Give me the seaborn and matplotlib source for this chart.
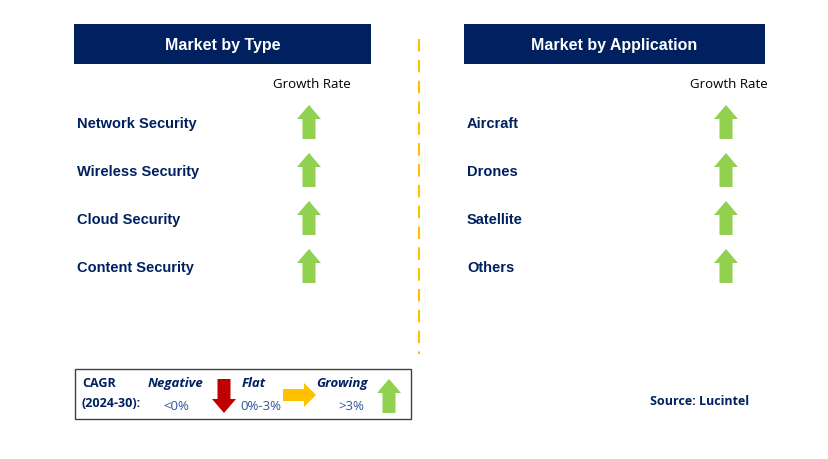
import matplotlib
matplotlib.use("Agg")
import matplotlib.pyplot as plt
import seaborn as sns

# chart content
type_labels = ["Network Security", "Wireless Security", "Cloud Security", "Content Security"]
type_growth = ["up", "up", "up", "up"]
app_labels = ["Aircraft", "Drones", "Satellite", "Others"]
app_growth = ["up", "up", "up", "up"]
panel_titles = ["Market by Type", "Market by Application"]
column_title = "Growth Rate"
legend_titles = ["Negative", "Flat", "Growing"]
legend_ranges = ["<0%", "0%-3%", ">3%"]
source_text = "Source: Lucintel"

navy = "#002060"
green = "#92D050"
red = "#C00000"
amber = "#FFC000"

sns.set_style("white")
plt.rcParams["font.family"] = ["Liberation Sans", "DejaVu Sans"]

fig = plt.figure(figsize=(8.29, 4.60), dpi=100)
ax = fig.add_axes([0, 0, 1, 1])
ax.set_xlim(0, 829)
ax.set_ylim(460, 0)
ax.axis("off")


def up_arrow(x, y_mid, color, h=34):
    ax.arrow(x, y_mid + h / 2, 0, -h, width=13, head_width=24, head_length=14,
             length_includes_head=True, color=color, lw=0)


def down_arrow(x, y_mid, color, h=34):
    ax.arrow(x, y_mid - h / 2, 0, h, width=13, head_width=24, head_length=14,
             length_includes_head=True, color=color, lw=0)


def right_arrow(x0, y_mid, color, w=33):
    ax.arrow(x0, y_mid, w, 0, width=12, head_width=24, head_length=12,
             length_includes_head=True, color=color, lw=0)


panels = [(74, 371, 77, 309, type_labels, type_growth),
          (464, 765, 467, 726, app_labels, app_growth)]

for (x0, x1, lx, ax_x, labels, growth), title in zip(panels, panel_titles):
    ax.add_patch(plt.Rectangle((x0, 25), x1 - x0, 40, color=navy, lw=0))
    ax.text((x0 + x1) / 2, 45.5, title, color="white", fontsize=11.5, fontweight="bold",
            ha="center", va="center")
    ax.text(ax_x + 3, 84.5, column_title, fontsize=9.5, ha="center", va="center",
            family=["Open Sans", "DejaVu Sans"], color="black")
    for i, (lab, g) in enumerate(zip(labels, growth)):
        y = 124 + 48 * i
        ax.text(lx, y, lab, color=navy, fontsize=10.5, fontweight="bold", ha="left", va="center")
        if g == "up":
            up_arrow(ax_x, y - 1, green)
        elif g == "down":
            down_arrow(ax_x, y - 1, red)
        else:
            right_arrow(ax_x - 16, y - 1, amber)

# divider
ax.plot([419, 419], [40, 355], color=amber, lw=1.5, ls=(0, (6, 4)))

# legend box
ax.add_patch(plt.Rectangle((75, 370), 336, 50, fill=False, ec="#404040", lw=1))
ax.text(82, 384, "CAGR", color=navy, fontsize=9, fontweight="bold", va="center",
        family=["Open Sans", "DejaVu Sans"])
ax.text(82, 404, "(2024-30):", color=navy, fontsize=9, fontweight="bold", va="center",
        family=["Open Sans", "DejaVu Sans"])
leg_x = [176, 254, 342]
rng_x = [176, 261, 351]
for tx, rx, t, r in zip(leg_x, rng_x, legend_titles, legend_ranges):
    ax.text(tx, 384, t, color=navy, fontsize=9.5, fontweight="bold", style="italic",
            ha="center", va="center", family=["Open Sans", "DejaVu Sans"])
    ax.text(rx, 407, r, color="#2F5597", fontsize=9.5, ha="center", va="center",
            family=["Open Sans", "DejaVu Sans"])
down_arrow(224, 397, red)
right_arrow(283, 396, amber)
up_arrow(389, 397, green)

ax.text(700, 402, source_text, color=navy, fontsize=9, fontweight="bold", ha="center",
        va="center", family=["Open Sans", "DejaVu Sans"])

fig.savefig("out.png", dpi=100, facecolor="white")
